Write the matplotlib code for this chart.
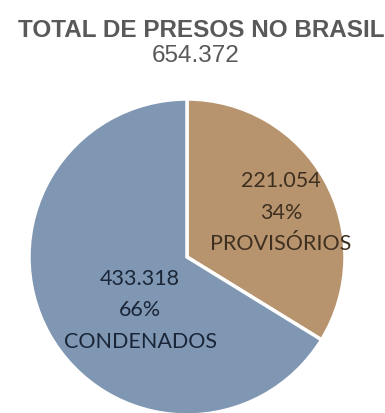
import matplotlib.pyplot as plt

# presos no Brasil por situação
categorias = ['PROVISÓRIOS', 'CONDENADOS']
valores = [221054, 433318]
cores = ['#B8946E', '#7F97B3']
cores_texto = ['#3E3020', '#1A2638']
# posição dos rótulos dentro de cada fatia (x, y em raios)
pos_rotulos = [(0.595, 0.285), (-0.297, -0.33)]

total = sum(valores)


def fmt_milhar(v):
	return '{:,}'.format(v).replace(',', '.')


fig = plt.figure(figsize=(3.85, 4.14), dpi=100)
fig.patch.set_facecolor('white')

fig.text(0.522, 0.926, 'TOTAL DE PRESOS NO BRASIL', ha='center', va='center',
		 fontsize=17.5, fontweight='bold', color='#595959', family='Liberation Sans')
fig.text(0.509, 0.865, fmt_milhar(total), ha='center', va='center',
		 fontsize=17.5, color='#595959', family='Liberation Sans')

ax = fig.add_axes([29 / 385, -2 / 414, 316 / 385, 316 / 414])
ax.pie(valores, colors=cores, startangle=90, counterclock=False, radius=1,
	   wedgeprops={'edgecolor': 'white', 'linewidth': 2.5})
ax.set_xlim(-1, 1)
ax.set_ylim(-1, 1)

for nome, v, cor, (x, y) in zip(categorias, valores, cores_texto, pos_rotulos):
	pct = round(100 * v / total)
	ax.text(x, y, '{}\n{}%\n{}'.format(fmt_milhar(v), pct, nome), ha='center', va='center',
			fontsize=15.5, color=cor, family='Lato', linespacing=1.72)

fig.savefig('out.png', dpi=100)
